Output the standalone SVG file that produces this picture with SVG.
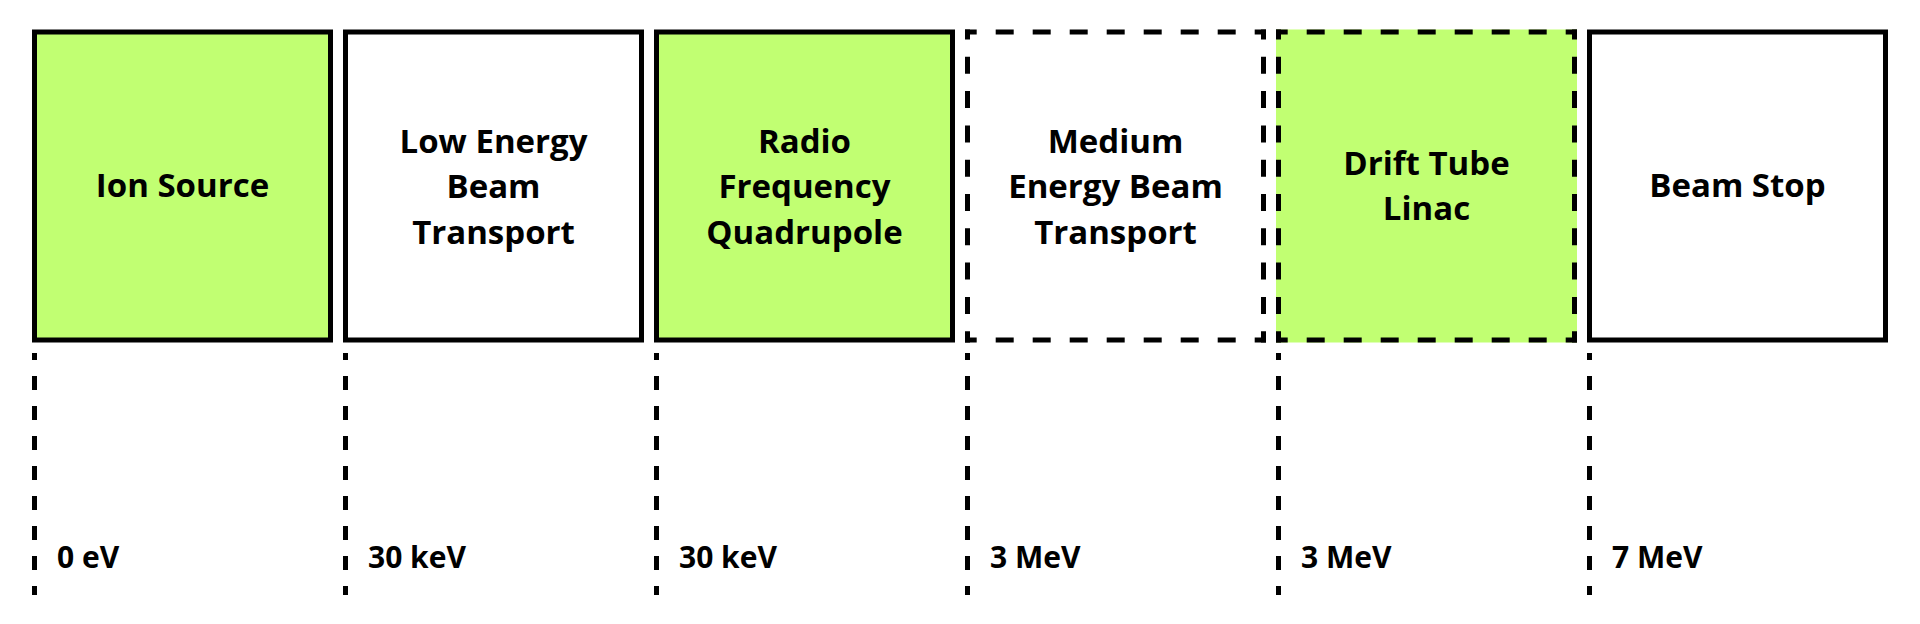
<svg xmlns="http://www.w3.org/2000/svg" width="1920" height="624" viewBox="0 0 1920 624">
<style>
.bg{fill:#ffffff}
.box{stroke:#000;stroke-width:5}
.green{fill:#c1ff72}
.white{fill:#ffffff}
.dh{fill:none;stroke:#000;stroke-width:5;stroke-dasharray:18 19;stroke-dashoffset:6.3}
.dv{fill:none;stroke:#000;stroke-width:5;stroke-dasharray:17 17.3;stroke-dashoffset:7}
.t{font-family:"Open Sans","Noto Sans",sans-serif;font-weight:700;font-size:33px;fill:#000;text-anchor:middle}
.lbl{font-family:"Open Sans","Noto Sans",sans-serif;font-weight:700;font-size:30px;fill:#000}
.vl{stroke:#000;stroke-width:5;stroke-dasharray:14 16;stroke-dashoffset:7;fill:none}
</style>
<rect class="bg" x="0" y="0" width="1920" height="624"/>
<g id="ion-source">
<rect class="box green" x="34.5" y="32" width="296" height="308"/>
<text class="t" x="182.5" y="197">Ion Source</text>
</g>
<g id="lebt">
<rect class="box white" x="345.5" y="32" width="296" height="308"/>
<text class="t" x="493.5" y="152.5">Low Energy</text>
<text class="t" x="493.5" y="198">Beam</text>
<text class="t" x="493.5" y="243.5">Transport</text>
</g>
<g id="rfq">
<rect class="box green" x="656.5" y="32" width="296" height="308"/>
<text class="t" x="804.5" y="152.5">Radio</text>
<text class="t" x="804.5" y="198">Frequency</text>
<text class="t" x="804.5" y="243.5">Quadrupole</text>
</g>
<g id="mebt">
<rect class="white" x="965" y="29.5" width="301" height="313"/>
<line class="dh" x1="965" y1="32" x2="1266" y2="32"/>
<line class="dh" x1="965" y1="340" x2="1266" y2="340"/>
<line class="dv" x1="967.5" y1="29.5" x2="967.5" y2="342.5"/>
<line class="dv" x1="1263.5" y1="29.5" x2="1263.5" y2="342.5"/>
<text class="t" x="1115.5" y="152.5">Medium</text>
<text class="t" x="1115.5" y="198">Energy Beam</text>
<text class="t" x="1115.5" y="243.5">Transport</text>
</g>
<g id="dtl">
<rect class="green" x="1276" y="29.5" width="301" height="313"/>
<line class="dh" x1="1276" y1="32" x2="1577" y2="32"/>
<line class="dh" x1="1276" y1="340" x2="1577" y2="340"/>
<line class="dv" x1="1278.5" y1="29.5" x2="1278.5" y2="342.5"/>
<line class="dv" x1="1574.5" y1="29.5" x2="1574.5" y2="342.5"/>
<text class="t" x="1426.5" y="175">Drift Tube</text>
<text class="t" x="1426.5" y="220">Linac</text>
</g>
<g id="beam-stop">
<rect class="box white" x="1589.5" y="32" width="296" height="308"/>
<text class="t" x="1737.5" y="197">Beam Stop</text>
</g>
<g id="connectors">
<line class="vl" x1="34.5" y1="353" x2="34.5" y2="595"/>
<line class="vl" x1="345.5" y1="353" x2="345.5" y2="595"/>
<line class="vl" x1="656.5" y1="353" x2="656.5" y2="595"/>
<line class="vl" x1="967.5" y1="353" x2="967.5" y2="595"/>
<line class="vl" x1="1278.5" y1="353" x2="1278.5" y2="595"/>
<line class="vl" x1="1589.5" y1="353" x2="1589.5" y2="595"/>
</g>
<g id="labels">
<text class="lbl" x="57" y="568">0 eV</text>
<text class="lbl" x="368" y="568">30 keV</text>
<text class="lbl" x="679" y="568">30 keV</text>
<text class="lbl" x="990" y="568">3 MeV</text>
<text class="lbl" x="1301" y="568">3 MeV</text>
<text class="lbl" x="1612" y="568">7 MeV</text>
</g>
</svg>
